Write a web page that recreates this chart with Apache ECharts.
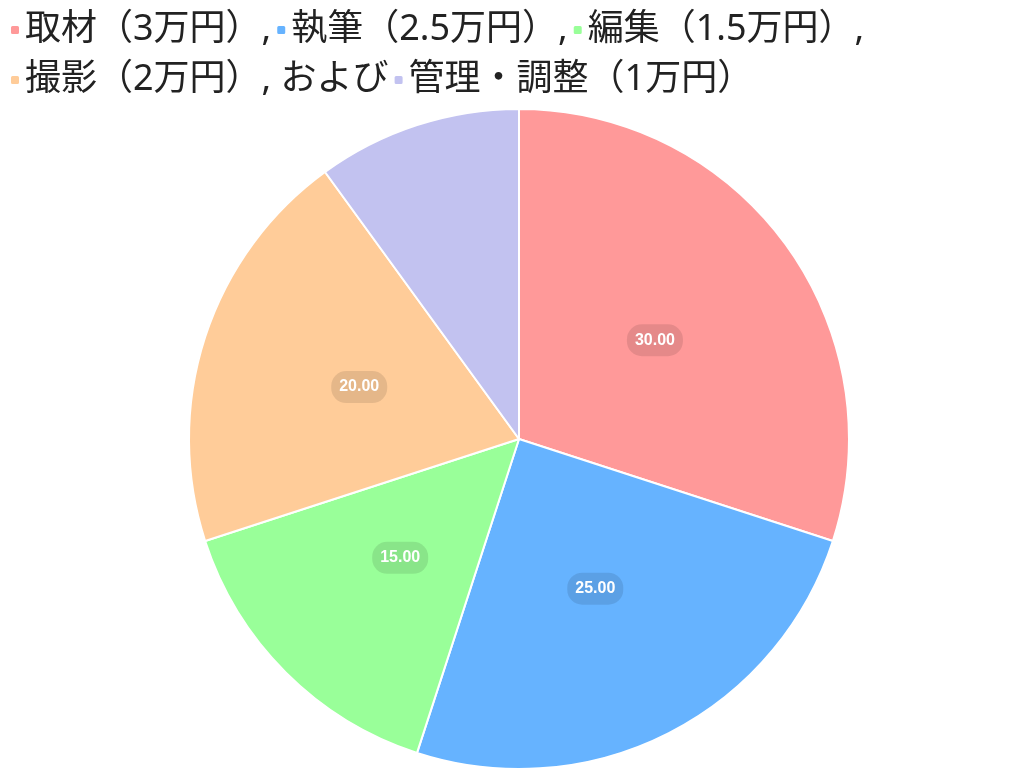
<!DOCTYPE html>
<html>
<head>
<meta charset="utf-8">
<script src="https://cdn.jsdelivr.net/npm/echarts@6/dist/echarts.min.js"></script>
<style>html,body{margin:0;padding:0;background:#fff;}#c{width:1024px;height:781px;}</style>
</head>
<body>
<div id="c"></div>
<script>
const categories = ['取材（3万円）,', '執筆（2.5万円）,', '編集（1.5万円）,', '撮影（2万円）, および', '管理・調整（1万円）'];
const values = [30, 25, 15, 20, 10];
const colors = ['#ff9999', '#66b3ff', '#99ff99', '#ffcc99', '#c2c2f0'];
const showLabel = [true, true, true, true, false];

const chart = echarts.init(document.getElementById('c'));
chart.setOption({
  animation: false,
  color: colors,
  legend: {
    left: 4,
    top: 2,
    itemWidth: 10,
    itemHeight: 10,
    itemGap: 4,
    icon: 'roundRect',
    textStyle: { fontSize: 36, lineHeight: 46, color: '#222', fontFamily: '"Noto Sans", "Noto Sans CJK JP", sans-serif' },
    data: categories
  },
  series: [{
    type: 'pie',
    center: [519, 439],
    radius: 330,
    startAngle: 90,
    clockwise: true,
    itemStyle: { borderColor: '#fff', borderWidth: 2 },
    label: {
      show: true,
      position: 'inside',
      formatter: p => p.value.toFixed(2),
      color: '#fff',
      fontWeight: 'bold',
      fontSize: 16,
      fontFamily: 'Liberation Sans',
      backgroundColor: 'rgba(0,0,0,0.1)',
      borderRadius: 15,
      padding: [8, 8]
    },
    labelLine: { show: false },
    data: categories.map((n, i) => ({ name: n, value: values[i], label: { show: showLabel[i] } }))
  }]
});
</script>
</body>
</html>
